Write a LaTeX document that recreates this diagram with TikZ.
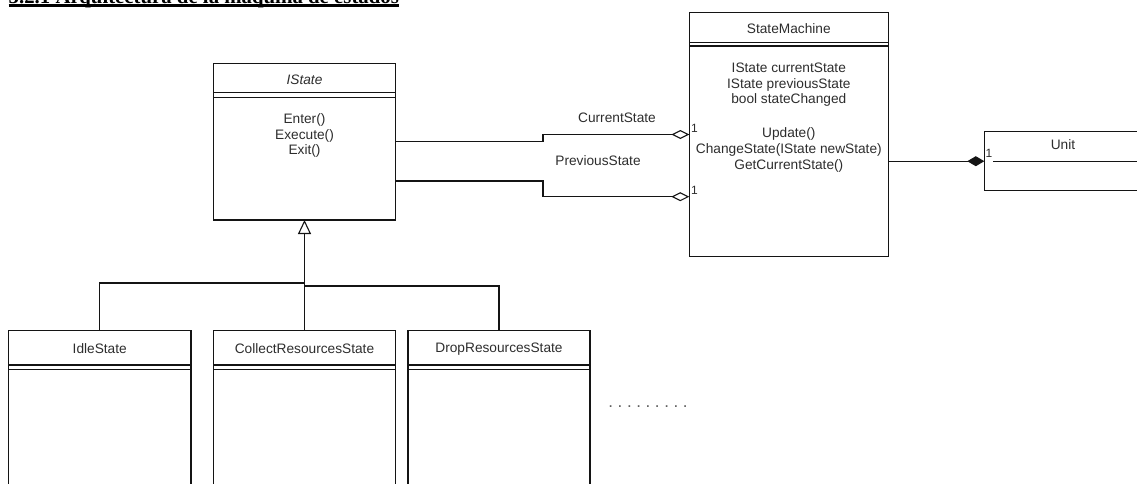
\documentclass[tikz,border=0pt]{standalone}
\usepackage{fontspec}
\setmainfont{Liberation Sans}
\newfontfamily\titlefont{Liberation Serif}
\usetikzlibrary{arrows.meta}
\definecolor{txt}{RGB}{45,45,45}
\definecolor{ln}{RGB}{20,20,20}
\definecolor{dotc}{RGB}{95,95,95}
\begin{document}
\begin{tikzpicture}[x=1pt,y=-1pt,
  cls/.style={draw=ln, line width=1.1pt, anchor=north west, inner sep=0pt, outer sep=0pt},
  lbl/.style={font=\fontsize{13.7}{15.6}\selectfont, text=txt, inner sep=0pt, align=center},
  mult/.style={font=\fontsize{12}{14}\selectfont, text=txt, inner sep=0.5pt},
  conn/.style={draw=ln, line width=1.1pt},
  sep/.style={draw=ln, line width=1.1pt},
  agg/.style={conn, -{Diamond[open, length=18pt, width=9pt, fill=white]}},
  comp/.style={conn, -{Diamond[length=17pt, width=10pt]}},
  inh/.style={conn, -{Triangle[open, length=14pt, width=13pt, fill=white]}},
]
\useasboundingbox (0,0) rectangle (1137,483);

% title (cropped at the top of the picture, as in the reference)
\node[font=\titlefont\bfseries\fontsize{20.8}{24}\selectfont, anchor=base west, inner sep=0pt] (title) at (8.5,3) {5.2.1 Arquitectura de la máquina de estados};
\draw[line width=2.2pt] ([yshift=-2.4pt]title.base west) -- ([yshift=-2.4pt]title.base east);

% IState
\node[cls, minimum width=182pt, minimum height=156.7pt] (istate) at (213.5,63.3) {};
\draw[sep] (213.5,92.7) -- (395.5,92.7);
\draw[sep] (213.5,97.7) -- (395.5,97.7);
\node[lbl] (istateT) at (304.5,79.3) {\itshape IState};
\node[lbl] (istateM) at (304.5,135.8) {Enter()\\Execute()\\Exit()};

% StateMachine
\node[cls, minimum width=199pt, minimum height=244.4pt] (sm) at (689.3,12.3) {};
\draw[sep] (689.3,42.7) -- (888.3,42.7);
\draw[sep] (689.3,46) -- (888.3,46);
\node[lbl] (smT) at (788.8,28.3) {StateMachine};
\node[lbl] (smA) at (788.8,85) {IState currentState\\IState previousState\\bool stateChanged};
\node[lbl] (smM) at (788.8,150) {Update()\\ChangeState(IState newState)\\GetCurrentState()};

% Unit
\node[cls, minimum width=158pt, minimum height=59pt] (unit) at (984.3,131.7) {};
\draw[sep] (993,161.7) -- (1142.3,161.7);
\node[lbl] (unitT) at (1063,145) {Unit};

% subclasses
\node[cls, minimum width=182.5pt, minimum height=200pt] (idle) at (8.5,330.8) {};
\draw[sep] (8.5,365) -- (191,365);
\draw[sep] (8.5,369.2) -- (191,369.2);
\node[lbl] (idleT) at (99.75,349) {IdleState};

\node[cls, minimum width=182pt, minimum height=200pt] (collect) at (213.5,330.8) {};
\draw[sep] (213.5,365) -- (395.5,365);
\draw[sep] (213.5,369.2) -- (395.5,369.2);
\node[lbl] (collectT) at (304.5,349) {CollectResourcesState};

\node[cls, minimum width=182pt, minimum height=200pt] (drop) at (408,330.8) {};
\draw[sep] (408,365) -- (590,365);
\draw[sep] (408,369.2) -- (590,369.2);
\node[lbl] (dropT) at (499,349) {DropResourcesState};

% inheritance
\coordinate (busL) at (304.5,283);
\coordinate (busR) at (304.5,286);
\draw[conn] (idle.north) |- (busL);
\draw[conn] (drop.north) |- (busR);
\draw[inh] (collect.north) -- (istate.south);

% aggregations
\draw[agg] (istate.east) -- ++(147.5,0) |- (sm.west);
\draw[agg] ([yshift=-39.3pt]istate.east) -- ++(147.5,0) |- ([yshift=-62.2pt]sm.west);
\node[lbl] (curL) at (617,118) {CurrentState};
\node[lbl] (prevL) at (598,161) {PreviousState};
\node[mult] (m1) at (694.5,128) {1};
\node[mult] (m2) at (694.5,190.5) {1};

% composition
\draw[comp] (sm.east |- unit.west) -- (unit.west);
\node[mult] (m3) at (989,153) {1};

% ellipsis
\node[font=\fontsize{17}{20}\selectfont, text=dotc, inner sep=0pt] (dots) at (648,407) {.\kern4.6pt.\kern4.6pt.\kern4.6pt.\kern4.6pt.\kern4.6pt.\kern4.6pt.\kern4.6pt.\kern4.6pt.};
\end{tikzpicture}
\end{document}
